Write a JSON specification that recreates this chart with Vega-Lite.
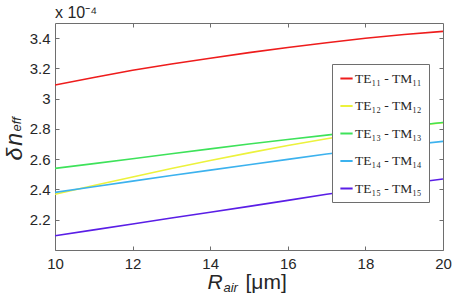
{
  "$schema": "https://vega.github.io/schema/vega-lite/v6.json",
  "width": 388,
  "height": 227,
  "autosize": {"type": "none"},
  "padding": {"left": 55, "top": 23, "right": 9, "bottom": 43},
  "background": "white",
  "title": {
    "text": "x 10⁻⁴",
    "anchor": "start",
    "frame": "group",
    "orient": "top",
    "offset": 0,
    "dy": 11,
    "baseline": "alphabetic",
    "font": "Liberation Sans",
    "fontSize": 16,
    "fontWeight": "normal",
    "color": "#262626"
  },
  "config": {
    "view": {"stroke": "#6e6e6e", "strokeWidth": 1},
    "axis": {
      "grid": false,
      "domain": false,
      "labelFont": "Liberation Sans",
      "labelFontSize": 15,
      "labelColor": "#262626",
      "labelFlush": false,
      "tickColor": "#6e6e6e",
      "titleFont": "Liberation Sans",
      "titleColor": "#262626",
      "titleFontWeight": "normal"
    }
  },
  "data": {
    "values": [
      {"r": 10, "dn": 3.090, "mode": "TE11"}, {"r": 11, "dn": 3.140, "mode": "TE11"},
      {"r": 12, "dn": 3.188, "mode": "TE11"}, {"r": 13, "dn": 3.229, "mode": "TE11"},
      {"r": 14, "dn": 3.267, "mode": "TE11"}, {"r": 15, "dn": 3.304, "mode": "TE11"},
      {"r": 16, "dn": 3.338, "mode": "TE11"}, {"r": 17, "dn": 3.370, "mode": "TE11"},
      {"r": 18, "dn": 3.399, "mode": "TE11"}, {"r": 19, "dn": 3.424, "mode": "TE11"},
      {"r": 20, "dn": 3.445, "mode": "TE11"},
      {"r": 10, "dn": 2.368, "mode": "TE12"}, {"r": 11, "dn": 2.426, "mode": "TE12"},
      {"r": 12, "dn": 2.483, "mode": "TE12"}, {"r": 13, "dn": 2.538, "mode": "TE12"},
      {"r": 14, "dn": 2.591, "mode": "TE12"}, {"r": 15, "dn": 2.642, "mode": "TE12"},
      {"r": 16, "dn": 2.690, "mode": "TE12"}, {"r": 17, "dn": 2.735, "mode": "TE12"},
      {"r": 18, "dn": 2.776, "mode": "TE12"}, {"r": 19, "dn": 2.814, "mode": "TE12"},
      {"r": 20, "dn": 2.842, "mode": "TE12"},
      {"r": 10, "dn": 2.539, "mode": "TE13"}, {"r": 11, "dn": 2.571, "mode": "TE13"},
      {"r": 12, "dn": 2.603, "mode": "TE13"}, {"r": 13, "dn": 2.636, "mode": "TE13"},
      {"r": 14, "dn": 2.668, "mode": "TE13"}, {"r": 15, "dn": 2.700, "mode": "TE13"},
      {"r": 16, "dn": 2.730, "mode": "TE13"}, {"r": 17, "dn": 2.759, "mode": "TE13"},
      {"r": 18, "dn": 2.788, "mode": "TE13"}, {"r": 19, "dn": 2.816, "mode": "TE13"},
      {"r": 20, "dn": 2.843, "mode": "TE13"},
      {"r": 10, "dn": 2.381, "mode": "TE14"}, {"r": 11, "dn": 2.418, "mode": "TE14"},
      {"r": 12, "dn": 2.455, "mode": "TE14"}, {"r": 13, "dn": 2.492, "mode": "TE14"},
      {"r": 14, "dn": 2.528, "mode": "TE14"}, {"r": 15, "dn": 2.563, "mode": "TE14"},
      {"r": 16, "dn": 2.599, "mode": "TE14"}, {"r": 17, "dn": 2.634, "mode": "TE14"},
      {"r": 18, "dn": 2.663, "mode": "TE14"}, {"r": 19, "dn": 2.691, "mode": "TE14"},
      {"r": 20, "dn": 2.718, "mode": "TE14"},
      {"r": 10, "dn": 2.094, "mode": "TE15"}, {"r": 11, "dn": 2.133, "mode": "TE15"},
      {"r": 12, "dn": 2.172, "mode": "TE15"}, {"r": 13, "dn": 2.211, "mode": "TE15"},
      {"r": 14, "dn": 2.250, "mode": "TE15"}, {"r": 15, "dn": 2.288, "mode": "TE15"},
      {"r": 16, "dn": 2.328, "mode": "TE15"}, {"r": 17, "dn": 2.368, "mode": "TE15"},
      {"r": 18, "dn": 2.403, "mode": "TE15"}, {"r": 19, "dn": 2.436, "mode": "TE15"},
      {"r": 20, "dn": 2.469, "mode": "TE15"}
    ]
  },
  "layer": [
    {
      "mark": {"type": "line", "strokeWidth": 1.6, "clip": true},
      "encoding": {
        "x": {
          "field": "r", "type": "quantitative",
          "scale": {"domain": [10, 20], "nice": false},
          "axis": {
            "orient": "bottom", "values": [10, 12, 14, 16, 18, 20], "format": "d",
            "tickSize": -4, "labelPadding": 10,
            "title": "R", "titleFontStyle": "italic", "titleFontSize": 21,
            "titleX": 152, "titleY": 38, "titleAlign": "left", "titleBaseline": "alphabetic"
          }
        },
        "y": {
          "field": "dn", "type": "quantitative",
          "scale": {"domain": [2.0, 3.5], "nice": false, "zero": false},
          "axis": {
            "orient": "left", "values": [2.2, 2.4, 2.6, 2.8, 3.0, 3.2, 3.4], "format": ".1~f",
            "tickSize": -4, "labelPadding": 9,
            "title": "δ\u200an", "titleFontStyle": "italic", "titleFontSize": 23, "titleAngle": -90,
            "titleX": -34, "titleY": 137, "titleAlign": "left", "titleBaseline": "alphabetic"
          }
        },
        "color": {
          "field": "mode", "type": "nominal",
          "scale": {
            "domain": ["TE11", "TE12", "TE13", "TE14", "TE15"],
            "range": ["#ee1c1c", "#ecf23c", "#3ee25a", "#3cb2ee", "#5a1ee6"]
          },
          "legend": {
            "orient": "none", "legendX": 277, "legendY": 41,
            "title": null, "padding": 7, "rowPadding": 13.5,
            "strokeColor": "#6e6e6e", "fillColor": "white",
            "symbolType": "stroke", "symbolSize": 150, "symbolStrokeWidth": 2,
            "labelFont": "Liberation Serif", "labelFontSize": 13.5, "labelColor": "#262626",
            "labelOffset": 1,
            "labelExpr": "{'TE11': 'TE₁₁ - TM₁₁', 'TE12': 'TE₁₂ - TM₁₂', 'TE13': 'TE₁₃ - TM₁₃', 'TE14': 'TE₁₄ - TM₁₄', 'TE15': 'TE₁₅ - TM₁₅'}[datum.value]"
          }
        }
      }
    },
    {
      "mark": {"type": "line", "opacity": 0},
      "encoding": {
        "x": {
          "field": "r", "type": "quantitative",
          "axis": {
            "orient": "bottom", "labels": false, "ticks": false,
            "title": "air", "titleFontStyle": "italic", "titleFontSize": 13,
            "titleX": 168, "titleY": 41, "titleAlign": "left", "titleBaseline": "alphabetic"
          }
        },
        "y": {
          "field": "dn", "type": "quantitative",
          "axis": {
            "orient": "left", "labels": false, "ticks": false,
            "title": "eff", "titleFontStyle": "italic", "titleFontSize": 13, "titleAngle": -90,
            "titleX": -35, "titleY": 108, "titleAlign": "left", "titleBaseline": "alphabetic"
          }
        }
      }
    },
    {
      "mark": {"type": "line", "opacity": 0},
      "encoding": {
        "x": {
          "field": "r", "type": "quantitative",
          "axis": {
            "orient": "top", "values": [12, 14, 16, 18], "labels": false,
            "tickSize": -4, "title": null
          }
        },
        "y": {
          "field": "dn", "type": "quantitative",
          "axis": {
            "orient": "right", "values": [2.2, 2.4, 2.6, 2.8, 3.0, 3.2, 3.4], "labels": false,
            "tickSize": -4, "title": null
          }
        }
      }
    },
    {
      "mark": {"type": "line", "opacity": 0},
      "encoding": {
        "x": {
          "field": "r", "type": "quantitative",
          "axis": {
            "orient": "bottom", "labels": false, "ticks": false,
            "title": "[μm]", "titleFontSize": 21,
            "titleX": 190, "titleY": 38, "titleAlign": "left", "titleBaseline": "alphabetic"
          }
        },
        "y": {"field": "dn", "type": "quantitative", "axis": null}
      }
    }
  ],
  "resolve": {"axis": {"x": "independent", "y": "independent"}}
}
